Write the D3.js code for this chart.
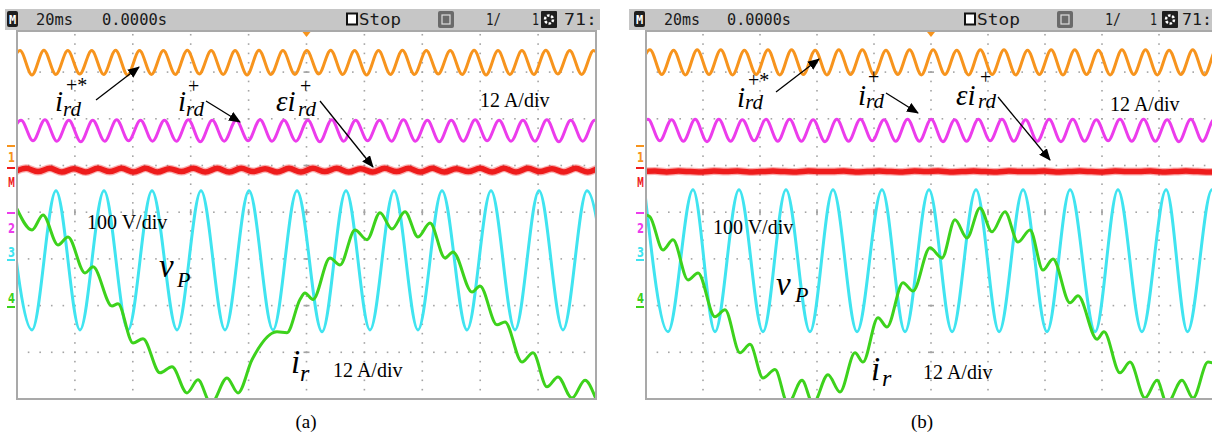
<!DOCTYPE html>
<html>
<head>
<meta charset="utf-8">
<script src="https://cdn.jsdelivr.net/npm/d3@7"></script>
<style>
  body { margin: 0; background: #fff; }
  svg { display: block; }
</style>
</head>
<body>
<div class="d3-content"></div>
<script>
const SVG_WIDTH = 1212;
const SVG_HEIGHT = 443;

// ---- data: time in ms (20 ms/div), level in screen divisions from centre ----
const timeDomain = [0, 200];
const divDomain = [-4, 4];

// ch1 orange, i_rd^{+*}: extrema, one every half period
const orangeA_t0 = -3.09, orangeA_dt = 4.128;
const orangeA = [2.95,3.46,2.94,3.47,2.95,3.46,2.96,3.46,2.95,3.47,
                 2.94,3.46,2.95,3.46,2.95,3.47,2.96,3.46,2.95,3.46,
                 2.94,3.47,2.95,3.46,2.95,3.46,2.96,3.47,2.95,3.46,
                 2.94,3.46,2.95,3.47,2.95,3.46,2.96,3.46,2.95,3.47,
                 2.94,3.46,2.95,3.46,2.95,3.47,2.96,3.46,2.95,3.46,2.95];
const orangeB_t0 = -2.74, orangeB_dt = 4.14;
const orangeB = [2.94,3.48,2.95,3.47,2.94,3.48,2.95,3.48,2.94,3.47,
                 2.95,3.48,2.94,3.48,2.95,3.47,2.94,3.48,2.95,3.48,
                 2.94,3.47,2.95,3.48,2.94,3.48,2.95,3.47,2.94,3.48,
                 2.95,3.48,2.94,3.47,2.95,3.48,2.94,3.48,2.95,3.47,
                 2.94,3.48,2.95,3.48,2.94,3.47,2.95,3.48,2.94,3.48,2.95];

// ch2 magenta, i_rd^+
const magentaA_t0 = -2.73, magentaA_dt = 4.128;
const magentaA = [1.52,1.97,1.53,1.98,1.52,1.97,1.51,1.97,1.52,1.98,
                  1.53,1.97,1.52,1.97,1.52,1.98,1.51,1.97,1.52,1.97,
                  1.53,1.98,1.52,1.97,1.52,1.97,1.51,1.98,1.52,1.97,
                  1.53,1.97,1.52,1.98,1.52,1.97,1.51,1.97,1.52,1.98,
                  1.53,1.97,1.52,1.97,1.52,1.98,1.51,1.97,1.52,1.97,1.52];
const magentaB_t0 = -3.44, magentaB_dt = 4.14;
const magentaB = [1.52,1.99,1.53,1.98,1.52,1.99,1.51,1.99,1.52,1.98,
                  1.53,1.99,1.52,1.99,1.52,1.98,1.51,1.99,1.52,1.99,
                  1.53,1.98,1.52,1.99,1.52,1.99,1.51,1.98,1.52,1.99,
                  1.53,1.99,1.52,1.98,1.52,1.99,1.51,1.99,1.52,1.98,
                  1.53,1.99,1.52,1.99,1.52,1.98,1.51,1.99,1.52,1.99,1.52];

// math channel red, eps * i_rd^+
const redA_t0 = -1.0, redA_dt = 4.128;
const redA = [0.86,0.94,0.87,0.94,0.86,0.93,0.86,0.94,0.87,0.94,
              0.86,0.94,0.86,0.93,0.87,0.94,0.86,0.94,0.86,0.94,
              0.87,0.93,0.86,0.94,0.86,0.94,0.87,0.94,0.86,0.93,
              0.86,0.94,0.87,0.94,0.86,0.94,0.86,0.93,0.87,0.94,
              0.86,0.94,0.86,0.94,0.87,0.93,0.86,0.94,0.86,0.94,0.87];
const redB_t0 = -1.0, redB_dt = 4.14;
const redB = [0.87,0.88,0.86,0.88,0.87,0.86,0.88,0.87,0.88,0.86,
              0.87,0.88,0.87,0.86,0.88,0.87,0.87,0.88,0.86,0.87,
              0.88,0.87,0.86,0.88,0.87,0.88,0.86,0.87,0.88,0.87,
              0.86,0.88,0.87,0.87,0.88,0.86,0.87,0.88,0.87,0.86,
              0.88,0.87,0.87,0.88,0.86,0.87,0.88,0.87,0.86,0.88,0.87];

// ch3 cyan, v_P: [ms, div] extrema
const cyanA = [[-3.15,0.46],[5.18,-2.52],[13.47,0.46],[21.76,-2.52],[30.05,0.46],[38.34,-2.52],
               [46.63,0.46],[55.27,-2.52],[63.56,0.46],[71.85,-2.52],[80.14,0.46],[88.43,-2.52],
               [96.72,0.46],[105.36,-2.56],[113.65,0.46],[121.93,-2.52],[130.23,0.46],[138.51,-2.52],
               [146.81,0.46],[155.44,-2.52],[163.74,0.46],[172.02,-2.52],[180.32,0.46],[188.6,-2.52],
               [196.9,0.46],[205.2,-2.52]];
const cyanB = [[-0.5,0.48],[7.72,-2.56],[16.49,0.48],[24.21,-2.56],[32.63,0.48],[41.05,-2.56],
               [49.12,0.48],[57.54,-2.56],[65.61,0.48],[74.04,-2.56],[82.81,0.48],[90.88,-2.56],
               [99.3,0.48],[107.4,-2.56],[115.8,0.48],[123.9,-2.56],[132.3,0.48],[140.7,-2.56],
               [148.8,0.48],[157.6,-2.56],[165.6,0.48],[174.0,-2.56],[182.5,0.48],[190.0,-2.56],
               [198.6,0.48],[206.9,-2.56]];

// ch4 green, i_r: [ms, div]
const greenA = [[0.00,0.07],[5.18,-0.38],[8.98,-0.06],[14.16,-0.70],[17.62,-0.53],[23.49,-1.30],
                [26.25,-1.17],[32.81,-2.01],[34.89,-1.96],[40.07,-2.80],[43.52,-2.71],[49.40,-3.44],
                [53.54,-3.31],[58.72,-3.87],[62.52,-3.59],[67.01,-4.10],[72.54,-3.55],[76.34,-3.87],
                [81.17,-3.16],[89.81,-2.56],[93.26,-2.58],[97.75,-1.87],[99.48,-1.73],[102.24,-1.87],
                [108.12,-0.98],[111.57,-1.13],[116.75,-0.38],[120.90,-0.59],[125.39,-0.01],[129.53,-0.36],
                [134.02,0.01],[138.51,-0.53],[142.66,-0.23],[147.84,-0.98],[150.60,-0.85],[157.17,-1.71],
                [159.93,-1.58],[165.80,-2.41],[168.57,-2.35],[174.44,-3.21],[178.24,-3.01],[183.07,-3.74],
                [186.87,-3.53],[191.71,-3.98],[196.20,-3.60],[199.65,-3.95]];
const greenB = [[0.00,-0.06],[1.40,-0.10],[5.96,-0.81],[9.47,-0.59],[14.74,-1.45],[18.25,-1.30],
                [24.21,-2.24],[27.72,-2.09],[32.98,-3.01],[36.49,-2.83],[41.05,-3.55],[45.26,-3.37],
                [49.82,-4.10],[54.74,-3.60],[58.60,-4.10],[63.86,-3.48],[68.07,-3.85],[73.33,-3.01],
                [76.14,-3.21],[81.40,-2.26],[84.56,-2.46],[90.18,-1.51],[93.68,-1.69],[99.65,-0.76],
                [103.86,-0.98],[108.42,-0.16],[112.63,-0.55],[117.19,0.09],[121.40,-0.42],[125.96,0.01],
                [130.53,-0.64],[134.74,-0.38],[139.30,-1.24],[142.81,-1.00],[148.77,-1.94],[151.58,-1.79],
                [158.25,-2.72],[160.70,-2.56],[166.32,-3.44],[169.82,-3.21],[175.09,-3.98],[179.30,-3.60],
                [182.81,-4.10],[188.07,-3.60],[191.93,-3.98],[197.19,-3.21],[200.5,-3.26]];

// header / text labels
const headerTexts = ['20ms', '0.0000s', 'Stop', '1/', '1', '71:'];
const channelTags = ['1', 'M', '2', '3', '4'];
const captions = ['(a)', '(b)'];
const scaleTexts = ['12 A/div', '100 V/div', '12 A/div'];

// ---- layout ----
const PLOT_BOTTOM = 399;
const PLOT_TOP = 31;
const DIV_PX = 46.7;
const COLORS = { orange: '#f7941d', magenta: '#ec3cec', red: '#ee1c1c', cyan: '#40e4f0', green: '#3dd21c' };

const panels = [
  { left: 17, width: 579, hx: 5, hw: 595,
    head: [36, 102, 359, 486, 532, 564], headW: [37, 65, 42, 15, 7, 33], stopX: 346, icon1: 438, icon2: 541, mbox: 7,
    orange: [orangeA, orangeA_t0, orangeA_dt], magenta: [magentaA, magentaA_t0, magentaA_dt],
    red: [redA, redA_t0, redA_dt], cyan: cyanA, green: greenA,
    tagX: 8,
    labels: {
      l1: [[55,111],[66,92],[63,116]], a1: [[96,100],[139,67]],
      l2: [[178,111],[188,93],[186,116]], a2: [[206,101],[240,122]],
      l3: [[276,111],[300,93],[298,116]], a3: [[320,101],[373,167]],
      s1: [480,107], s2: [87,229], vp: [[159,277],[177,287]], ir: [[291,373],[300,381]], s3: [333,377]
    },
    caption: 306 },
  { left: 646, width: 570, hx: 629, hw: 583,
    head: [664, 727, 977, 1105, 1150, 1182], headW: [36, 64, 43, 16, 7, 30], stopX: 964, icon1: 1057, icon2: 1162, mbox: 634,
    orange: [orangeB, orangeB_t0, orangeB_dt], magenta: [magentaB, magentaB_t0, magentaB_dt],
    red: [redB, redB_t0, redB_dt], cyan: cyanB, green: greenB,
    tagX: 637,
    labels: {
      l1: [[737,107],[748,87],[745,109]], a1: [[776,92],[819,59]],
      l2: [[858,105],[868,84],[866,108]], a2: [[886,93],[918,113]],
      l3: [[956,105],[980,84],[978,108]], a3: [[998,97],[1050,160]],
      s1: [1110,111], s2: [713,234], vp: [[776,295],[795,302]], ir: [[871,380],[882,386]], s3: [923,379]
    },
    caption: 922 }
];

const svg = d3.select('.d3-content')
  .append('svg')
  .attr('width', SVG_WIDTH)
  .attr('height', SVG_HEIGHT);

const defs = svg.append('defs');
defs.append('marker')
  .attr('id', 'arrow')
  .attr('viewBox', '0 0 12 10')
  .attr('refX', 11).attr('refY', 5)
  .attr('markerWidth', 12).attr('markerHeight', 10)
  .attr('markerUnits', 'userSpaceOnUse')
  .attr('orient', 'auto')
  .append('path')
  .attr('d', 'M0,0 L12,5 L0,10 Z')
  .attr('fill', '#000');

const SERIF = "'Liberation Serif', 'Times New Roman', serif";
const MONO = "'DejaVu Sans Mono', monospace";

const uniform = (vals, t0, dt) => vals.map((v, i) => [t0 + i * dt, v]);

panels.forEach((p, pi) => {
  const xscale = d3.scaleLinear().domain(timeDomain).range([p.left, p.left + p.width]);
  const yscale = d3.scaleLinear().domain(divDomain).range([PLOT_BOTTOM, PLOT_BOTTOM - 8 * DIV_PX]);
  const g = svg.append('g');

  // header bar
  g.append('rect').attr('x', p.hx).attr('y', 9).attr('width', p.hw).attr('height', 21).attr('fill', '#c6c6c6');
  g.append('rect').attr('x', p.mbox).attr('y', 11).attr('width', 11).attr('height', 16).attr('rx', 2).attr('fill', '#1e1e1e');
  g.append('text').attr('x', p.mbox + 5.5).attr('y', 24).attr('text-anchor', 'middle')
    .attr('font-family', MONO).attr('font-size', 12).attr('font-weight', 'bold').attr('fill', '#fff').text('M');
  headerTexts.forEach((t, i) => {
    g.append('text').attr('x', p.head[i]).attr('y', 25)
      .attr('font-family', MONO).attr('font-size', 15).attr('fill', '#1a1a1a')
      .attr('textLength', p.headW[i]).attr('lengthAdjust', 'spacingAndGlyphs')
      .text(t);
  });
  g.append('rect').attr('x', p.stopX + 1).attr('y', 13.5).attr('width', 10).attr('height', 11)
    .attr('fill', '#fff').attr('stroke', '#111').attr('stroke-width', 2);
  g.append('rect').attr('x', p.icon1).attr('y', 11).attr('width', 16).attr('height', 17).attr('rx', 2).attr('fill', '#6a6a6a');
  g.append('rect').attr('x', p.icon1 + 4).attr('y', 15).attr('width', 8).attr('height', 9).attr('fill', 'none').attr('stroke', '#ddd').attr('stroke-width', 1.2);
  g.append('rect').attr('x', p.icon2).attr('y', 11).attr('width', 16).attr('height', 17).attr('rx', 1).attr('fill', '#1e1e1e');
  g.append('circle').attr('cx', p.icon2 + 8).attr('cy', 19.5).attr('r', 4).attr('fill', 'none').attr('stroke', '#fff').attr('stroke-width', 2.5).attr('stroke-dasharray', '2.5 1.6');

  // plot frame
  g.append('rect').attr('x', p.left).attr('y', PLOT_TOP).attr('width', p.width).attr('height', PLOT_BOTTOM - PLOT_TOP)
    .attr('fill', '#fff').attr('stroke', '#a9a9a9').attr('stroke-width', 2);

  // dotted graticule
  const grid = g.append('g').attr('fill', '#a4a4a4');
  const colTimes = d3.range(20, 200, 20);
  const rowDivs = d3.range(-3, 4, 1);
  colTimes.forEach(t => {
    d3.range(-4, 4.01, 0.2).forEach(v => {
      const y = yscale(v);
      if (y > PLOT_TOP + 3 && y < PLOT_BOTTOM - 2)
        grid.append('rect').attr('x', xscale(t) - 0.8).attr('y', y - 0.8).attr('width', 1.6).attr('height', 1.6);
    });
  });
  rowDivs.forEach(v => {
    d3.range(0, 200.01, 4).forEach(t => {
      const x = xscale(t);
      if (x > p.left + 2 && x < p.left + p.width - 2)
        grid.append('rect').attr('x', x - 0.8).attr('y', yscale(v) - 0.8).attr('width', 1.6).attr('height', 1.6);
    });
  });
  // centre-line ticks
  rowDivs.forEach(v => {
    grid.append('rect').attr('x', xscale(100) - 3).attr('y', yscale(v) - 0.8).attr('width', 6).attr('height', 1.6);
  });
  colTimes.forEach(t => {
    grid.append('rect').attr('x', xscale(t) - 0.8).attr('y', yscale(0) - 3).attr('width', 1.6).attr('height', 6);
  });

  // trigger mark
  g.append('path')
    .attr('d', `M${xscale(100) - 4},${PLOT_TOP + 1} L${xscale(100) + 4},${PLOT_TOP + 1} L${xscale(100)},${PLOT_TOP + 6} Z`)
    .attr('fill', COLORS.orange);

  // traces
  const clipId = 'clip' + pi;
  defs.append('clipPath').attr('id', clipId).append('rect')
    .attr('x', p.left + 1).attr('y', PLOT_TOP + 1).attr('width', p.width - 2).attr('height', PLOT_BOTTOM - PLOT_TOP - 2);
  const traces = g.append('g').attr('clip-path', `url(#${clipId})`).attr('fill', 'none')
    .attr('stroke-linejoin', 'round').attr('stroke-linecap', 'round');
  const generator = d3.line()
    .x(d => xscale(d[0]))
    .y(d => yscale(d[1]))
    .curve(d3.curveMonotoneX);

  traces.append('path').datum(uniform(...p.orange)).attr('d', generator)
    .attr('stroke', COLORS.orange).attr('stroke-width', 3);
  traces.append('path').datum(uniform(...p.magenta)).attr('d', generator)
    .attr('stroke', COLORS.magenta).attr('stroke-width', 3);
  traces.append('path').datum(uniform(...p.red)).attr('d', generator)
    .attr('stroke', COLORS.red).attr('stroke-width', 8).attr('stroke-opacity', 0.35);
  traces.append('path').datum(uniform(...p.red)).attr('d', generator)
    .attr('stroke', COLORS.red).attr('stroke-width', 5.5);
  traces.append('path').datum(p.cyan).attr('d', generator)
    .attr('stroke', COLORS.cyan).attr('stroke-width', 3);
  traces.append('path').datum(p.green).attr('d', generator)
    .attr('stroke', COLORS.green).attr('stroke-width', 3);

  // channel tags on the left edge
  const tagY = [162, 187, 233, 257, 303];
  const tagColor = [COLORS.orange, COLORS.red, COLORS.magenta, COLORS.cyan, COLORS.green];
  channelTags.forEach((c, i) => {
    g.append('text').attr('x', p.tagX).attr('y', tagY[i])
      .attr('font-family', "'DejaVu Sans', sans-serif").attr('font-weight', 'bold').attr('font-size', 14)
      .attr('textLength', 7).attr('lengthAdjust', 'spacingAndGlyphs')
      .attr('fill', tagColor[i]).text(c);
  });
  [[146, COLORS.orange], [168, COLORS.red], [213, COLORS.magenta], [260, COLORS.cyan], [307, COLORS.green]]
    .forEach(([y, c]) => {
      g.append('rect').attr('x', p.tagX - 1).attr('y', y - 1).attr('width', 8).attr('height', 2).attr('fill', c);
    });

  // annotations
  const L = p.labels;
  const ann = g.append('g').attr('font-family', SERIF).attr('fill', '#000');
  function mathI(pos, mainText, sup, mainSize) {
    const t = ann.append('text');
    t.append('tspan').attr('x', pos[0][0]).attr('y', pos[0][1]).attr('font-size', mainSize).attr('font-style', 'italic').text(mainText);
    t.append('tspan').attr('x', pos[1][0]).attr('y', pos[1][1]).attr('font-size', 20).text(sup);
    t.append('tspan').attr('x', pos[2][0]).attr('y', pos[2][1]).attr('font-size', 21).attr('font-style', 'italic').text('rd');
  }
  mathI(L.l1, 'i', '+*', 29);
  mathI(L.l2, 'i', '+', 29);
  mathI(L.l3, '\u03b5i', '+', 29);
  [L.a1, L.a2, L.a3].forEach(a => {
    ann.append('line').attr('x1', a[0][0]).attr('y1', a[0][1]).attr('x2', a[1][0]).attr('y2', a[1][1])
      .attr('stroke', '#000').attr('stroke-width', 1.3).attr('marker-end', 'url(#arrow)');
  });
  [L.s1, L.s2, L.s3].forEach((s, i) => {
    ann.append('text').attr('x', s[0]).attr('y', s[1]).attr('font-size', 20).text(scaleTexts[i]);
  });
  const vp = ann.append('text');
  vp.append('tspan').attr('x', L.vp[0][0]).attr('y', L.vp[0][1]).attr('font-size', 33).attr('font-style', 'italic').text('v');
  vp.append('tspan').attr('x', L.vp[1][0]).attr('y', L.vp[1][1]).attr('font-size', 22).attr('font-style', 'italic').text('P');
  const ir = ann.append('text');
  ir.append('tspan').attr('x', L.ir[0][0]).attr('y', L.ir[0][1]).attr('font-size', 33).attr('font-style', 'italic').text('i');
  ir.append('tspan').attr('x', L.ir[1][0]).attr('y', L.ir[1][1]).attr('font-size', 24).attr('font-style', 'italic').text('r');

  // caption
  svg.append('text').attr('x', p.caption).attr('y', 428).attr('text-anchor', 'middle')
    .attr('font-family', SERIF).attr('font-size', 19).text(captions[pi]);
});
</script>
</body>
</html>
